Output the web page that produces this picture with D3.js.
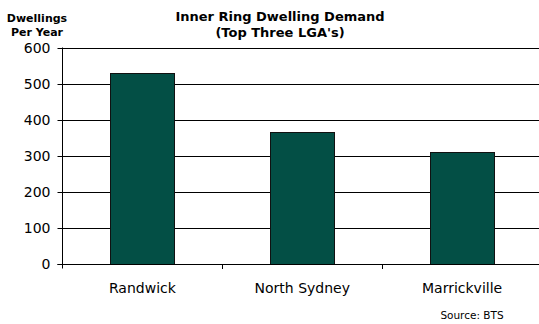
<!DOCTYPE html>
<html><head><meta charset="utf-8">
<script src="https://cdn.jsdelivr.net/npm/d3@7"></script>
<style>body{margin:0;background:#fff}svg{display:block}text{font-family:"DejaVu Sans",Verdana,sans-serif;fill:#000}</style>
</head><body>
<script>
const categories = ["Randwick", "North Sydney", "Marrickville"];
const values = [530, 364, 309];
const yTicks = [0, 100, 200, 300, 400, 500, 600];
const titleLines = ["Inner Ring Dwelling Demand", "(Top Three LGA's)"];
const yLabelLines = ["Dwellings", "Per Year"];
const source = "Source: BTS";

(function () {
const W = 539, H = 324;
const svg = d3.select("body").append("svg").attr("width", W).attr("height", H);
const pLeft = 62.5, pRight = 542, pTop = 47.5, pBottom = 263.5;
const x = d3.scaleBand().domain(categories).range([pLeft, pRight]).paddingInner(0.6).paddingOuter(0.3);
const y = d3.scaleLinear().domain([0, 600]).range([pBottom, pTop]);

// gridlines
svg.append("g").selectAll("line").data(yTicks.filter(d => d > 0)).join("line")
  .attr("x1", pLeft).attr("x2", W).attr("y1", d => Math.round(y(d)) + 0.5).attr("y2", d => Math.round(y(d)) + 0.5)
  .attr("stroke", "#000").attr("stroke-width", 1);

// bars
svg.append("g").selectAll("rect").data(values).join("rect")
  .attr("x", (d, i) => Math.round(x(categories[i])) + 0.5)
  .attr("width", Math.round(x.bandwidth()))
  .attr("y", d => Math.round(y(d)) + 0.5)
  .attr("height", d => Math.round(y(0)) - Math.round(y(d)))
  .attr("fill", "#034f45").attr("stroke", "#111").attr("stroke-width", 1);

// y axis
const yAxis = d3.axisLeft(y).tickValues(yTicks).tickSize(5).tickPadding(7).tickFormat(d3.format("d"));
const gy = svg.append("g").attr("transform", `translate(${pLeft},0)`).call(yAxis);
gy.select(".domain").remove();
gy.selectAll("line").attr("stroke", "#000");
gy.selectAll("text").style("font-size", "14px").attr("fill", "#000");
gy.selectAll(".tick").attr("transform", d => `translate(0,${Math.round(y(d)) + 0.5})`);
svg.append("line").attr("x1", pLeft).attr("x2", pLeft).attr("y1", pTop).attr("y2", pBottom + 5).attr("stroke", "#000");

// x axis baseline
svg.append("line").attr("x1", pLeft - 5).attr("x2", W).attr("y1", Math.round(y(0)) + 0.5).attr("y2", Math.round(y(0)) + 0.5).attr("stroke", "#000");
// x category boundary ticks
const step = x.step();
const bounds = categories.slice(1).map(c => x(c) - (step - x.bandwidth()) / 2);
svg.append("g").selectAll("line").data(bounds).join("line")
  .attr("x1", d => Math.round(d) + 0.5).attr("x2", d => Math.round(d) + 0.5)
  .attr("y1", Math.round(y(0))).attr("y2", Math.round(y(0)) + 5).attr("stroke", "#000");

// category labels
svg.append("g").selectAll("text").data(categories).join("text")
  .attr("x", d => x(d) + x.bandwidth() / 2).attr("y", 293)
  .attr("text-anchor", "middle").style("font-size", "14px").text(d => d);

// title
svg.append("g").selectAll("text").data(titleLines).join("text")
  .attr("x", 280).attr("y", (d, i) => 20.5 + i * 16)
  .attr("text-anchor", "middle").style("font-size", "13px").style("font-weight", "bold").text(d => d);

// y label
svg.append("g").selectAll("text").data(yLabelLines).join("text")
  .attr("x", 37).attr("y", (d, i) => 22 + i * 13.5)
  .attr("text-anchor", "middle").style("font-size", "11px").style("font-weight", "bold").text(d => d);

// source
svg.append("text").attr("x", 472).attr("y", 319).attr("text-anchor", "middle")
  .style("font-size", "10.5px").text(source);
})();
</script>
</body></html>
